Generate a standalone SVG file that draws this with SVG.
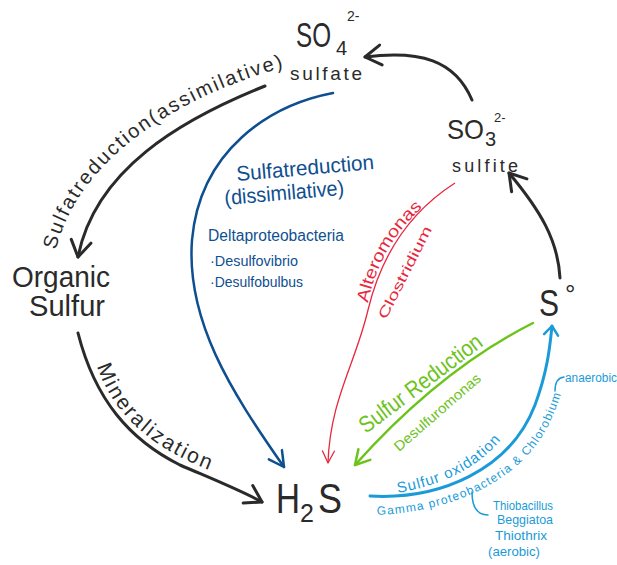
<svg xmlns="http://www.w3.org/2000/svg" width="617" height="565" viewBox="0 0 617 565">
<style>
text{font-family:"Liberation Sans","DejaVu Sans",sans-serif}
.k{fill:#2a2a2a}
.kl{fill:none;stroke:#2a2a2a;stroke-width:3;stroke-linecap:round}
.db{fill:#0f4f8f}
.dbl{fill:none;stroke:#0f4f8f;stroke-width:2.5;stroke-linecap:round}
.r{fill:#e8283c}
.rl{fill:none;stroke:#e8283c;stroke-width:1.3}
.g{fill:#6cc31a}
.gl{fill:none;stroke:#6cc31a;stroke-width:2.5;stroke-linecap:round}
.lb{fill:#1a9bd7}
.lbl{fill:none;stroke:#1a9bd7;stroke-width:3;stroke-linecap:round}
.mh{fill:none;stroke-linecap:round;stroke-linejoin:round}
</style>
<defs>
<marker id="ak" markerUnits="userSpaceOnUse" markerWidth="40" markerHeight="40" viewBox="-20 -20 40 40" refX="0" refY="0" orient="auto"><path class="mh" d="M-16,-10 L0,0 L-16,10" stroke="#2a2a2a" stroke-width="3"/></marker>
<marker id="ab" markerUnits="userSpaceOnUse" markerWidth="40" markerHeight="40" viewBox="-20 -20 40 40" refX="0" refY="0" orient="auto"><path class="mh" d="M-15,-8 L0,0 L-15,8" stroke="#0f4f8f" stroke-width="2.5"/></marker>
<marker id="ar" markerUnits="userSpaceOnUse" markerWidth="40" markerHeight="40" viewBox="-20 -20 40 40" refX="0" refY="0" orient="auto"><path class="mh" d="M-12,-6 L0,0 L-12,6" stroke="#e8283c" stroke-width="1.3"/></marker>
<marker id="ag" markerUnits="userSpaceOnUse" markerWidth="40" markerHeight="40" viewBox="-20 -20 40 40" refX="0" refY="0" orient="auto"><path class="mh" d="M-14,-8 L0,0 L-14,8" stroke="#6cc31a" stroke-width="2.5"/></marker>
<marker id="al" markerUnits="userSpaceOnUse" markerWidth="40" markerHeight="40" viewBox="-20 -20 40 40" refX="0" refY="0" orient="auto"><path class="mh" d="M-9,-7 L0,0 L-9,7" stroke="#1a9bd7" stroke-width="2.5"/></marker>
<path id="tpAss" d="M56,250 C76,165 170,96 296,64"/>
<path id="tpMin" d="M97,366 C115,420 160,455 232,478"/>
<path id="tpOx" d="M398,493 Q470,480 503,437"/>
<path id="tpGam" d="M377,515 C450,512 522,482 550,422 C555,411 559,401 562,390"/>
<path id="tpAlt" d="M368,303 C376,263 397,228 428,203"/>
</defs>
<rect width="617" height="565" fill="#ffffff"/>

<g id="connectors">
<path class="kl" d="M265,86 C180,120 95,170 78,257" marker-end="url(#ak)"/>
<path class="kl" d="M472,100 C455,60 420,50 365,57" marker-end="url(#ak)"/>
<path class="kl" d="M560,278 C558,240 540,210 509,173" marker-end="url(#ak)"/>
<path class="kl" d="M78,333 C95,400 130,440 180,465 C210,478 240,490 262,502" marker-end="url(#ak)"/>
<path class="dbl" d="M333,93 C270,105 200,150 192,240 C186,320 230,390 284,467" marker-end="url(#ab)"/>
<path class="rl" d="M455,183 C405,215 380,260 368,310 C355,365 330,400 328,463" marker-end="url(#ar)"/>
<path class="gl" d="M533,323 Q440,370 355,465" marker-end="url(#ag)"/>
<path class="lbl" d="M370,496 C440,500 510,470 535,405 C548,370 550,345 552,326" marker-end="url(#al)"/>
<path class="lbl" style="stroke-width:1.5" d="M472,492 Q472,515 488,515"/>
<path class="lbl" style="stroke-width:1.5" d="M555,391 Q555,378 564,377"/>
</g>

<g id="labels">
<text class="k" font-size="20"><textPath href="#tpAss" textLength="305" lengthAdjust="spacing">Sulfatreduction(assimilative)</textPath></text>
<text class="k" font-size="21"><textPath href="#tpMin" textLength="158" lengthAdjust="spacing">Mineralization</textPath></text>
<g transform="rotate(-5 237 181)">
<text class="db" x="237" y="181" font-size="21" textLength="138" lengthAdjust="spacingAndGlyphs">Sulfatreduction</text>
<text class="db" x="223" y="204" font-size="21" textLength="120" lengthAdjust="spacingAndGlyphs">(dissimilative)</text>
</g>
<text class="db" x="208" y="241" font-size="16" textLength="136" lengthAdjust="spacingAndGlyphs">Deltaproteobacteria</text>
<text class="db" x="210" y="266" font-size="14" textLength="88" lengthAdjust="spacingAndGlyphs">·Desulfovibrio</text>
<text class="db" x="210" y="287" font-size="14" textLength="93" lengthAdjust="spacingAndGlyphs">·Desulfobulbus</text>
<text class="r" font-size="17"><textPath href="#tpAlt" textLength="112" lengthAdjust="spacingAndGlyphs">Alteromonas</textPath></text>
<text class="r" x="386" y="320" font-size="14" transform="rotate(-63 386 320)" textLength="102" lengthAdjust="spacingAndGlyphs">Clostridium</text>
<text class="g" x="366" y="434" font-size="23" transform="rotate(-37 366 434)" textLength="148" lengthAdjust="spacingAndGlyphs">Sulfur Reduction</text>
<text class="g" x="399" y="452" font-size="14" transform="rotate(-41 399 452)" textLength="110" lengthAdjust="spacingAndGlyphs">Desulfuromonas</text>
<text class="lb" font-size="15"><textPath href="#tpOx" textLength="118" lengthAdjust="spacing">Sulfur oxidation</textPath></text>
<text class="lb" font-size="12"><textPath href="#tpGam" textLength="236" lengthAdjust="spacing">Gamma proteobacteria &amp; Chlorobium</textPath></text>
<text class="lb" x="565" y="382" font-size="12" textLength="52" lengthAdjust="spacingAndGlyphs">anaerobic</text>
<text class="lb" x="493" y="510" font-size="13" textLength="60" lengthAdjust="spacingAndGlyphs">Thiobacillus</text>
<text class="lb" x="497" y="524" font-size="13" textLength="56" lengthAdjust="spacingAndGlyphs">Beggiatoa</text>
<text class="lb" x="495" y="540" font-size="13" textLength="52" lengthAdjust="spacingAndGlyphs">Thiothrix</text>
<text class="lb" x="488" y="556" font-size="13" textLength="52" lengthAdjust="spacingAndGlyphs">(aerobic)</text>
</g>

<g id="node-so4">
<text class="k" x="296" y="47" font-size="35" textLength="35" lengthAdjust="spacingAndGlyphs">SO</text>
<text class="k" x="336" y="55" font-size="20">4</text>
<text class="k" x="347" y="21" font-size="14">2-</text>
<text class="k" x="290" y="80" font-size="19" textLength="72" lengthAdjust="spacing">sulfate</text>
</g>
<g id="node-so3">
<text class="k" x="447" y="139" font-size="28" textLength="37" lengthAdjust="spacingAndGlyphs">SO</text>
<text class="k" x="485" y="146" font-size="20">3</text>
<text class="k" x="494" y="122" font-size="13">2-</text>
<text class="k" x="452" y="172" font-size="18" textLength="66" lengthAdjust="spacing">sulfite</text>
</g>
<g id="node-s0">
<text class="k" x="539" y="316" font-size="36" textLength="20" lengthAdjust="spacingAndGlyphs">S</text>
<text class="k" x="565" y="303" font-size="26">°</text>
</g>
<g id="node-h2s">
<text class="k" x="276" y="513" font-size="42" textLength="24" lengthAdjust="spacingAndGlyphs">H</text>
<text class="k" x="300" y="522" font-size="25">2</text>
<text class="k" x="318" y="513" font-size="42" textLength="24" lengthAdjust="spacingAndGlyphs">S</text>
</g>
<g id="node-organic">
<text class="k" x="12" y="287" font-size="29" textLength="98" lengthAdjust="spacingAndGlyphs">Organic</text>
<text class="k" x="29" y="316" font-size="29" textLength="76" lengthAdjust="spacingAndGlyphs">Sulfur</text>
</g>
</svg>
